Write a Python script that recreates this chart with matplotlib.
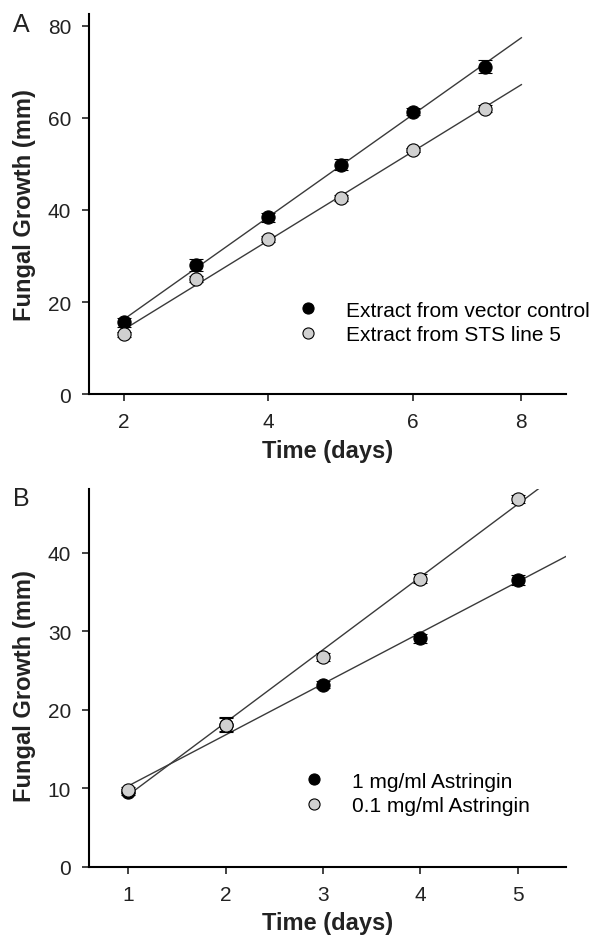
import numpy as np
import matplotlib
matplotlib.use("Agg")
import matplotlib.pyplot as plt
from matplotlib.lines import Line2D

plt.rcParams['font.family'] = ['Liberation Sans', 'DejaVu Sans']

# --- Panel A data: extract treatments ---
days_a = [2, 3, 4, 5, 6, 7]
vector_ctrl = [15.6, 28.1, 38.4, 49.8, 61.3, 71.1]
vector_err = [1.0, 1.3, 1.0, 1.2, 0.8, 1.5]
sts_line5 = [13.0, 25.0, 33.7, 42.6, 53.0, 62.0]
sts_err = [0.6, 0.7, 0.6, 0.6, 0.5, 0.8]
ticks_a = [2, 4, 6, 7.5]
ticklabels_a = ['2', '4', '6', '8']

# --- Panel B data: astringin treatments ---
days_b = [1, 2, 3, 4, 5]
astr_1mg = [9.5, 18.1, 23.2, 29.1, 36.5]
astr_1mg_err = [0.4, 0.8, 0.5, 0.6, 0.6]
astr_01mg = [9.8, 18.1, 26.7, 36.7, 46.8]
astr_01mg_err = [0.4, 1.0, 0.5, 0.6, 0.5]

GREY = '#d0d0d0'
LINE = '#3a3a3a'
TXT = '#222222'


def draw_series(ax, x, y, err, face, x_end):
    # regression line through the points
    k, b = np.polyfit(x, y, 1)
    xx = np.array([x[0], x_end])
    ax.plot(xx, k * xx + b, color=LINE, lw=1.0, zorder=1)
    ax.errorbar(x, y, yerr=err, fmt='o', ms=9.5, mfc=face, mec='black',
                mew=0.8, ecolor='black', elinewidth=1.3, capsize=5,
                capthick=1.6, zorder=3)


def style_axes(ax):
    for s in ['top', 'right']:
        ax.spines[s].set_visible(False)
    for s in ['left', 'bottom']:
        ax.spines[s].set_linewidth(1.5)
    ax.tick_params(direction='out', length=5, width=1.2,
                   labelsize=15, colors=TXT, pad=8)
    ax.set_xlabel('Time (days)', fontsize=17, fontweight='bold', color=TXT)
    ax.set_ylabel('Fungal Growth (mm)', fontsize=17, fontweight='bold',
                  color=TXT)
    ax.xaxis.set_label_coords(0.5, -0.118)


def add_legend(ax, labels, anchor):
    handles = [Line2D([], [], ls='none', marker='o', ms=8, mfc='black',
                      mec='black', mew=0.8),
               Line2D([], [], ls='none', marker='o', ms=8, mfc=GREY,
                      mec='black', mew=0.8)]
    ax.legend(handles, labels, loc='lower left', bbox_to_anchor=anchor,
              frameon=False, fontsize=15, handlelength=2.0,
              handletextpad=0.8, labelspacing=0.25, borderpad=0,
              borderaxespad=0)


fig = plt.figure(figsize=(5.91, 9.37), dpi=100)

# Panel A
axA = fig.add_axes([0.151, 0.578, 0.807, 0.406])
draw_series(axA, days_a, vector_ctrl, vector_err, 'black', 7.5)
draw_series(axA, days_a, sts_line5, sts_err, GREY, 7.5)
axA.set_xlim(1.52, 8.12)
axA.set_ylim(0, 82.5)
axA.set_xticks(ticks_a)
axA.set_xticklabels(ticklabels_a)
axA.set_yticks([0, 20, 40, 60, 80])
style_axes(axA)
axA.yaxis.set_label_coords(-0.112, 0.5)
add_legend(axA, ['Extract from vector control', 'Extract from STS line 5'],
           (0.415, 0.133))
fig.text(0.022, 0.973, 'A', fontsize=18, color=TXT, va='center')

# Panel B
axB = fig.add_axes([0.151, 0.074, 0.807, 0.403])
draw_series(axB, days_b, astr_1mg, astr_1mg_err, 'black', 5.5)
draw_series(axB, days_b, astr_01mg, astr_01mg_err, GREY, 5.5)
axB.set_xlim(0.6, 5.5)
axB.set_ylim(0, 48.1)
axB.set_xticks([1, 2, 3, 4, 5])
axB.set_yticks([0, 10, 20, 30, 40])
style_axes(axB)
axB.yaxis.set_label_coords(-0.112, 0.48)
add_legend(axB, ['1 mg/ml Astringin', '0.1 mg/ml Astringin'], (0.428, 0.137))
fig.text(0.022, 0.467, 'B', fontsize=18, color=TXT, va='center')

fig.savefig('out.png', dpi=100)
